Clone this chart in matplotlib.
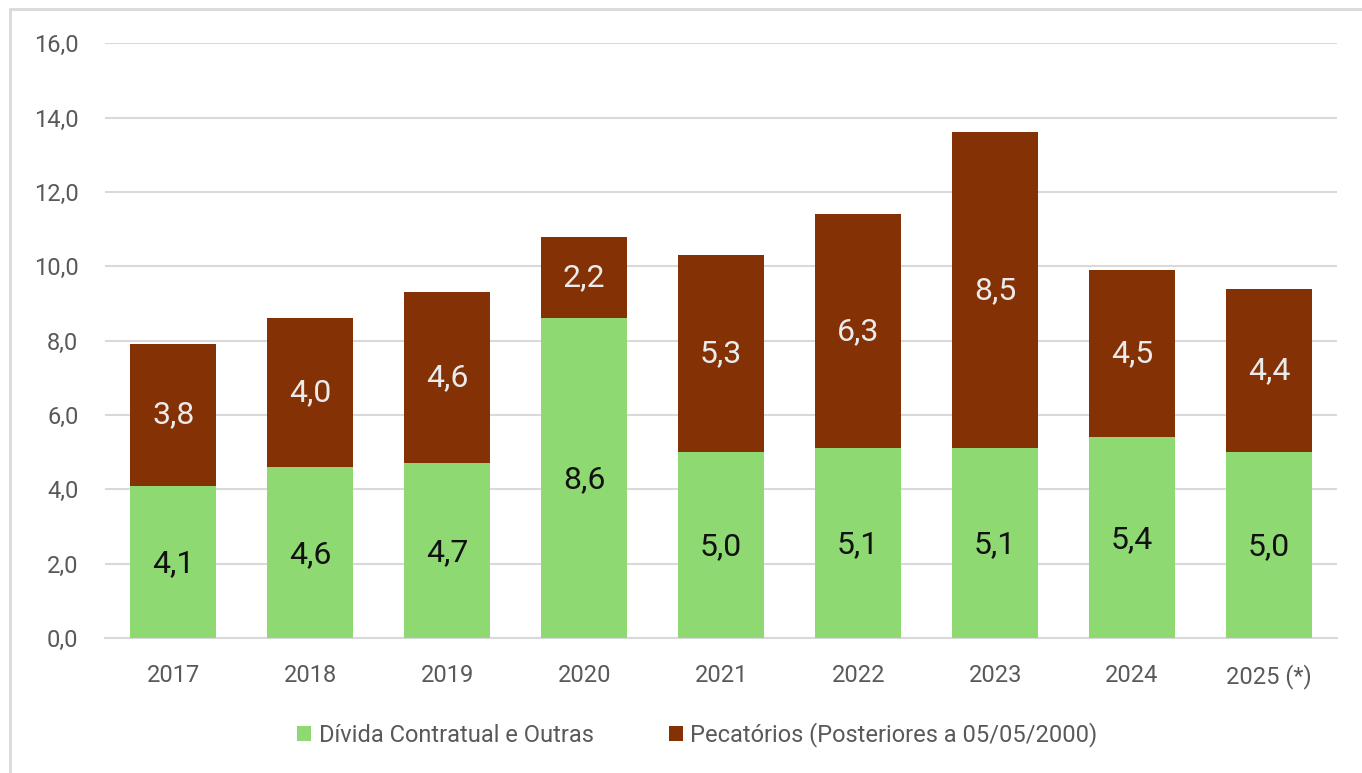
import matplotlib
matplotlib.use('Agg')
import matplotlib.pyplot as plt
from matplotlib.patches import Rectangle

plt.rcParams['font.family'] = ['Roboto', 'DejaVu Sans']

# Data
anos = ['2017', '2018', '2019', '2020', '2021', '2022', '2023', '2024', '2025 (*)']
divida = [4.1, 4.6, 4.7, 8.6, 5.0, 5.1, 5.1, 5.4, 5.0]
precatorios = [3.8, 4.0, 4.6, 2.2, 5.3, 6.3, 8.5, 4.5, 4.4]

verde = '#8FD973'
marrom = '#833105'
cinza = '#595959'

fig = plt.figure(figsize=(13.62, 7.73), dpi=100)
ax = fig.add_axes([0.077, 0.1747, 0.905, 0.7693])

# thin frame around the chart (only top/left visible in the original)
fig.patches.append(Rectangle((10 / 1362, -0.1), 1.2, 1 - 9 / 773 + 0.1,
                             transform=fig.transFigure, fill=False,
                             edgecolor='#D9D9D9', linewidth=2))

x = range(len(anos))
w = 0.63
b1 = ax.bar(x, divida, width=w, color=verde, label='Dívida Contratual e Outras', zorder=3)
b2 = ax.bar(x, precatorios, width=w, bottom=divida, color=marrom,
            label='Pecatórios (Posteriores a 05/05/2000)', zorder=3)

def fmt(v):
    return f'{v:.1f}'.replace('.', ',')

for i in x:
    ax.text(i, divida[i] / 2 - 0.05, fmt(divida[i]), ha='center', va='center',
            fontsize=23, color='#111111', zorder=4)
    ax.text(i, divida[i] + precatorios[i] / 2, fmt(precatorios[i]), ha='center',
            va='center', fontsize=23, color='#EBEBEB', zorder=4)

ax.set_xlim(-0.5, len(anos) - 0.5)
ax.set_ylim(0, 16)
ax.set_yticks([0, 2, 4, 6, 8, 10, 12, 14, 16])
ax.set_yticklabels([fmt(v) for v in [0, 2, 4, 6, 8, 10, 12, 14, 16]])
ax.set_xticks(list(x))
ax.set_xticklabels(anos)
ax.tick_params(axis='both', length=0, labelsize=17, labelcolor=cinza)
ax.tick_params(axis='y', pad=19)
ax.tick_params(axis='x', pad=19)
ax.grid(axis='y', color='#D9D9D9', linewidth=1.5, zorder=0)
for s in ['top', 'right', 'left']:
    ax.spines[s].set_visible(False)
ax.spines['bottom'].set_color('#D9D9D9')
ax.spines['bottom'].set_linewidth(1.5)

fig.legend(handles=[b1, b2], loc='center', bbox_to_anchor=(0.512, 1 - 735 / 773),
           ncol=2, frameon=False, fontsize=17, labelcolor=cinza,
           handlelength=0.6, handleheight=0.6, handletextpad=0.3, columnspacing=3.2)

fig.savefig('out.png', dpi=100)
